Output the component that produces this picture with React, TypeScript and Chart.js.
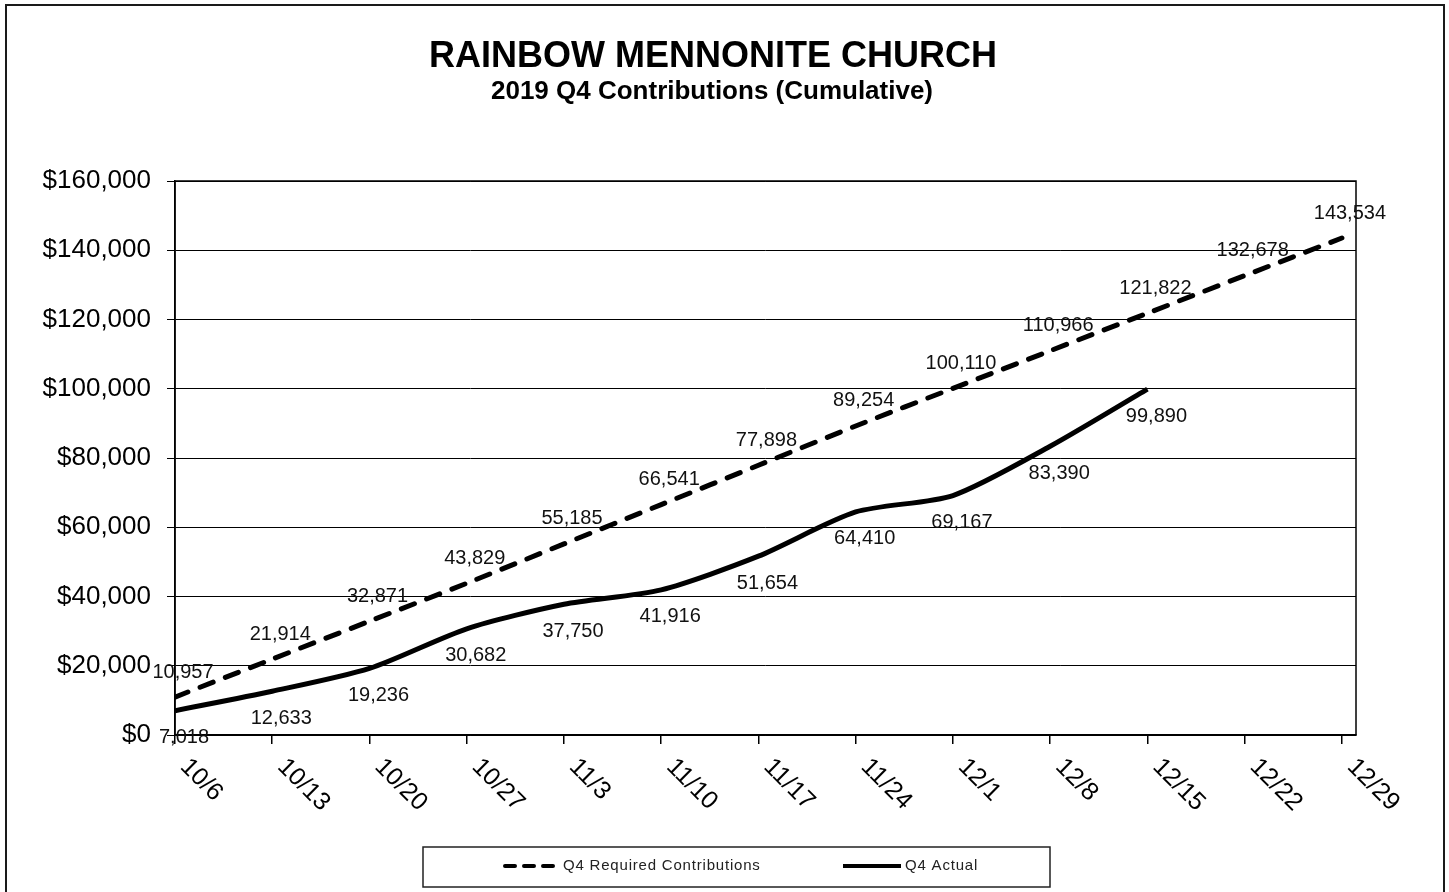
import React, { useEffect, useRef } from 'react';
import { Chart, registerables } from 'chart.js';

Chart.register(...registerables);

const categories = ['10/6', '10/13', '10/20', '10/27', '11/3', '11/10', '11/17', '11/24', '12/1', '12/8', '12/15', '12/22', '12/29'];
const requiredValues = [10957, 21914, 32871, 43829, 55185, 66541, 77898, 89254, 100110, 110966, 121822, 132678, 143534];
const actualValues: (number | null)[] = [7018, 12633, 19236, 30682, 37750, 41916, 51654, 64410, 69167, 83390, 99890, null, null];
const seriesNames = ['Q4 Required Contributions', 'Q4 Actual'];
const titleText = 'RAINBOW MENNONITE CHURCH';
const subtitleText = '2019 Q4 Contributions (Cumulative)';
const yMin = 0;
const yMax = 160000;
const yStep = 20000;

const FONT = '"Liberation Sans", Arial, sans-serif';
const fmt = (v: number) => v.toLocaleString('en-US');

const decorPlugin = {
  id: 'decor',
  beforeDraw(chart: any) {
    const ctx = chart.ctx;
    ctx.save();
    ctx.fillStyle = '#ffffff';
    ctx.fillRect(0, 0, chart.width, chart.height);
    ctx.strokeStyle = '#1a1a1a';
    ctx.lineWidth = 2;
    ctx.strokeRect(6, 5, 1438, 900);
    ctx.restore();
  },
  beforeDatasetsDraw(chart: any) {
    const { ctx, chartArea } = chart;
    ctx.save();
    ctx.strokeStyle = '#000';
    ctx.lineWidth = 1.5;
    ctx.strokeRect(chartArea.left, chartArea.top, chartArea.right - chartArea.left, chartArea.bottom - chartArea.top);
    ctx.restore();
  },
  afterDatasetsDraw(chart: any) {
    const ctx = chart.ctx;
    const area = chart.chartArea;
    ctx.save();
    // data labels
    ctx.font = `20px ${FONT}`;
    ctx.fillStyle = '#111';
    ctx.textAlign = 'center';
    ctx.textBaseline = 'middle';
    chart.data.datasets.forEach((ds: any, di: number) => {
      const meta = chart.getDatasetMeta(di);
      meta.data.forEach((pt: any, i: number) => {
        const raw = ds.data[i];
        if (!raw || raw.y == null) return;
        const dx = di === 0 ? 8 : 9;
        const dy = di === 0 ? -25 : 27;
        ctx.fillText(fmt(raw.y), pt.x + dx, pt.y + dy);
      });
    });
    // x tick labels (rotated clockwise)
    const xs = chart.scales.x;
    ctx.font = `25px ${FONT}`;
    ctx.fillStyle = '#000';
    ctx.textAlign = 'left';
    ctx.textBaseline = 'top';
    categories.forEach((c, i) => {
      const px = xs.getPixelForValue(i);
      ctx.save();
      ctx.translate(px + 18, area.bottom + 19);
      ctx.rotate(Math.PI / 4);
      ctx.fillText(c, 0, 0);
      ctx.restore();
    });
    // titles
    ctx.textAlign = 'center';
    ctx.textBaseline = 'alphabetic';
    ctx.fillStyle = '#000';
    ctx.font = `bold 36px ${FONT}`;
    ctx.fillText(titleText, 713, 67);
    ctx.font = `bold 26px ${FONT}`;
    ctx.fillText(subtitleText, 712, 99);
    // legend
    ctx.strokeStyle = '#222';
    ctx.lineWidth = 1.5;
    ctx.strokeRect(423, 847, 627, 40);
    ctx.lineWidth = 4;
    ctx.strokeStyle = '#000';
    ctx.lineCap = 'round';
    ctx.setLineDash([10, 9]);
    ctx.beginPath();
    ctx.moveTo(505, 866);
    ctx.lineTo(554, 866);
    ctx.stroke();
    ctx.setLineDash([]);
    ctx.lineCap = 'butt';
    ctx.beginPath();
    ctx.moveTo(843, 866);
    ctx.lineTo(901, 866);
    ctx.stroke();
    ctx.font = `15px ${FONT}`;
    (ctx as any).letterSpacing = '0.8px';
    ctx.fillStyle = '#222';
    ctx.textAlign = 'left';
    ctx.textBaseline = 'middle';
    ctx.fillText(seriesNames[0], 563, 866);
    ctx.fillText(seriesNames[1], 905, 866);
    ctx.restore();
  },
};

export default function App() {
  const ref = useRef<HTMLCanvasElement | null>(null);
  useEffect(() => {
    if (!ref.current) return;
    const chart = new Chart(ref.current, {
      type: 'line',
      data: {
        datasets: [
          {
            label: seriesNames[0],
            data: requiredValues.map((v, i) => ({ x: i, y: v })),
            borderColor: '#000',
            borderWidth: 5,
            borderDash: [14, 13],
            borderCapStyle: 'round',
            pointRadius: 0,
            tension: 0.25,
            fill: false,
          },
          {
            label: seriesNames[1],
            data: actualValues.map((v, i) => ({ x: i, y: v })).filter((p) => p.y != null),
            borderColor: '#000',
            borderWidth: 5,
            borderCapStyle: 'butt',
            pointRadius: 0,
            tension: 0.25,
            fill: false,
          },
        ],
      },
      options: {
        responsive: false,
        animation: false,
        devicePixelRatio: 1,
        layout: { padding: { top: 181, right: 93, bottom: 0, left: 0 } },
        plugins: {
          legend: { display: false },
          title: { display: false },
          tooltip: { enabled: false },
        },
        scales: {
          x: {
            type: 'linear',
            min: 0,
            max: categories.length - 1 + 0.145,
            afterBuildTicks: (scale: any) => {
              scale.ticks = categories.map((_, i) => ({ value: i }));
            },
            afterFit: (scale: any) => {
              scale.height = 157;
            },
            ticks: { display: false },
            grid: { drawOnChartArea: false, drawTicks: true, tickLength: 9, color: '#000', lineWidth: 1.5 },
            border: { display: true, color: '#000', width: 1.5 },
          },
          y: {
            min: yMin,
            max: yMax,
            afterFit: (scale: any) => {
              scale.width = 175;
            },
            ticks: {
              stepSize: yStep,
              padding: 16,
              color: '#000',
              font: { family: FONT, size: 26 },
              callback: (v: any) => '$' + fmt(Number(v)),
            },
            grid: { color: '#000', lineWidth: 1, tickLength: 8 },
            border: { display: true, color: '#000', width: 1.5 },
          },
        },
      },
      plugins: [decorPlugin],
    } as any);
    return () => chart.destroy();
  }, []);
  return (
    <div style={{ position: 'fixed', left: 0, top: 0, width: 1449, height: 892 }}>
      <canvas ref={ref} width={1449} height={892} style={{ display: 'block' }} />
    </div>
  );
}
